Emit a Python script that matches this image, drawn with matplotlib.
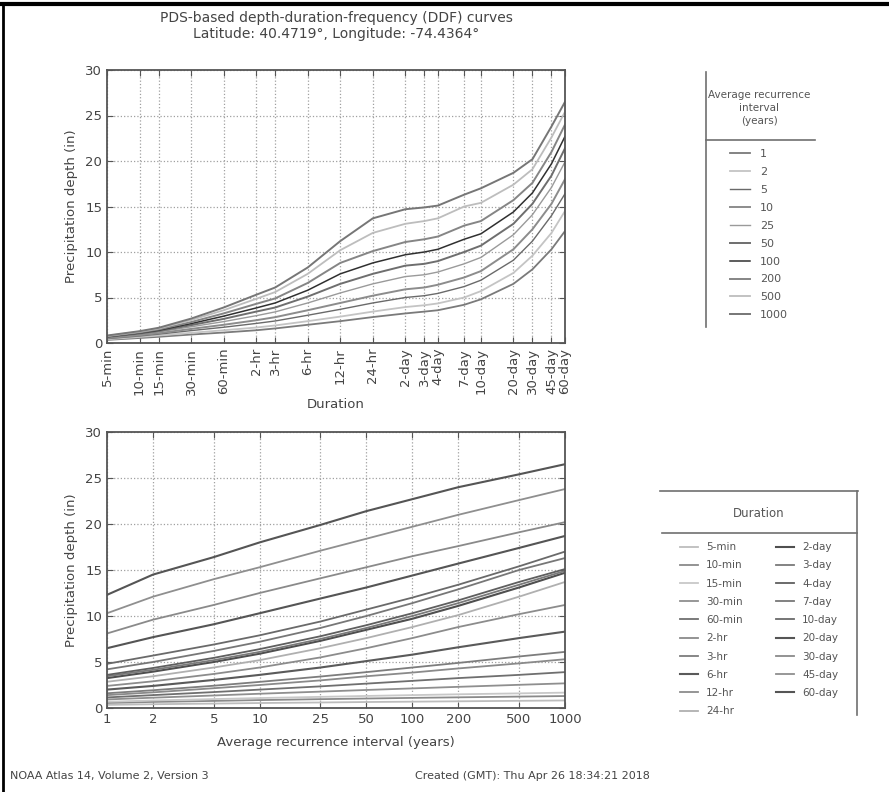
import numpy as np
import matplotlib
matplotlib.use("Agg")
import matplotlib.pyplot as plt
from matplotlib.lines import Line2D

# Average recurrence intervals (years)
ari_years = [1, 2, 5, 10, 25, 50, 100, 200, 500, 1000]
ari_labels = ["1", "2", "5", "10", "25", "50", "100", "200", "500", "1000"]

# Durations (labels and length in minutes)
duration_labels = ["5-min", "10-min", "15-min", "30-min", "60-min", "2-hr", "3-hr",
                   "6-hr", "12-hr", "24-hr", "2-day", "3-day", "4-day", "7-day",
                   "10-day", "20-day", "30-day", "45-day", "60-day"]
duration_minutes = [5, 10, 15, 30, 60, 120, 180, 360, 720, 1440, 2880, 4320, 5760,
                    10080, 14400, 28800, 43200, 64800, 86400]

# PDS precipitation depths (in); one row per duration, one column per ARI
depth_5min   = [0.34, 0.41, 0.48, 0.54, 0.60, 0.65, 0.69, 0.73, 0.78, 0.82]
depth_10min  = [0.55, 0.66, 0.77, 0.86, 0.96, 1.03, 1.10, 1.16, 1.24, 1.30]
depth_15min  = [0.68, 0.82, 0.97, 1.08, 1.21, 1.31, 1.40, 1.49, 1.59, 1.67]
depth_30min  = [0.93, 1.12, 1.36, 1.55, 1.78, 1.96, 2.13, 2.30, 2.52, 2.68]
depth_60min  = [1.15, 1.40, 1.73, 2.00, 2.35, 2.65, 2.95, 3.25, 3.60, 3.90]
depth_2hr    = [1.40, 1.70, 2.15, 2.50, 3.00, 3.45, 3.85, 4.30, 4.85, 5.30]
depth_3hr    = [1.60, 1.93, 2.42, 2.84, 3.42, 3.90, 4.40, 4.90, 5.60, 6.10]
depth_6hr    = [2.00, 2.40, 3.05, 3.60, 4.40, 5.10, 5.80, 6.60, 7.60, 8.30]
depth_12hr   = [2.40, 2.90, 3.70, 4.40, 5.50, 6.50, 7.60, 8.80, 10.2, 11.2]
depth_24hr   = [2.85, 3.45, 4.40, 5.20, 6.50, 7.60, 8.80, 10.1, 12.1, 13.7]
depth_2day   = [3.25, 3.95, 5.00, 5.90, 7.30, 8.50, 9.70, 11.1, 13.1, 14.7]
depth_3day   = [3.45, 4.15, 5.20, 6.10, 7.50, 8.70, 10.0, 11.4, 13.4, 14.9]
depth_4day   = [3.60, 4.35, 5.45, 6.40, 7.80, 9.00, 10.3, 11.7, 13.7, 15.1]
depth_7day   = [4.20, 5.00, 6.20, 7.20, 8.70, 10.0, 11.4, 12.9, 15.0, 16.3]
depth_10day  = [4.80, 5.70, 6.90, 7.90, 9.40, 10.7, 12.0, 13.4, 15.4, 17.0]
depth_20day  = [6.50, 7.70, 9.10, 10.3, 11.9, 13.1, 14.4, 15.7, 17.4, 18.7]
depth_30day  = [8.10, 9.60, 11.2, 12.5, 14.1, 15.3, 16.5, 17.6, 19.1, 20.2]
depth_45day  = [10.3, 12.1, 14.0, 15.3, 17.1, 18.4, 19.7, 21.0, 22.6, 23.8]
depth_60day  = [12.3, 14.5, 16.4, 18.0, 19.9, 21.4, 22.7, 24.0, 25.4, 26.5]

depths = np.array([depth_5min, depth_10min, depth_15min, depth_30min, depth_60min,
                   depth_2hr, depth_3hr, depth_6hr, depth_12hr, depth_24hr,
                   depth_2day, depth_3day, depth_4day, depth_7day, depth_10day,
                   depth_20day, depth_30day, depth_45day, depth_60day])

# Gray tones for the curves
ari_colors = ["#7a7a7a", "#c4c4c4", "#6a6a6a", "#8c8c8c", "#9a9a9a",
              "#6e6e6e", "#303030", "#858585", "#bdbdbd", "#767676"]
ari_widths = [1.3, 1.3, 1.0, 1.4, 1.0, 1.4, 1.1, 1.4, 1.3, 1.4]
dur_colors = ["#bdbdbd", "#8a8a8a", "#c8c8c8", "#8f8f8f", "#6f6f6f", "#8a8a8a",
              "#7d7d7d", "#5a5a5a", "#8c8c8c", "#b0b0b0", "#4f4f4f", "#7a7a7a",
              "#5f5f5f", "#777777", "#6a6a6a", "#555555", "#8a8a8a", "#8f8f8f",
              "#555555"]

plt.rcParams["font.family"] = ["DejaVu Sans"]

fig = plt.figure(figsize=(8.89, 7.92), dpi=100)
W, H = 889.0, 792.0


def style_axes(ax):
    for s in ax.spines.values():
        s.set_color("#555555")
        s.set_linewidth(1.3)
    ax.tick_params(direction="in", top=True, right=True, length=4, width=0.8,
                   colors="#555555", labelcolor="#444444", labelsize=9.5)
    ax.grid(True, linestyle=":", color="#a0a0a0", linewidth=0.9)
    ax.set_axisbelow(True)


# ---- Depth-duration curves ----
ax1 = fig.add_axes([107 / W, 1 - 343 / H, 458 / W, 273 / H])
for j, ari in enumerate(ari_labels):
    ax1.plot(duration_minutes, depths[:, j], color=ari_colors[j], lw=ari_widths[j],
             label=ari)
ax1.set_xscale("log")
ax1.set_xlim(duration_minutes[0], duration_minutes[-1])
ax1.set_ylim(0, 30)
ax1.set_xticks(duration_minutes)
ax1.set_xticklabels(duration_labels, rotation=90)
ax1.minorticks_off()
ax1.set_yticks(range(0, 31, 5))
style_axes(ax1)
ax1.set_xlabel("Duration", fontsize=9.5, color="#444444", labelpad=2)
ax1.set_ylabel("Precipitation depth (in)", fontsize=9.5, color="#444444", labelpad=5)
ax1.set_title("PDS-based depth-duration-frequency (DDF) curves\n"
              "Latitude: 40.4719\u00b0, Longitude: -74.4364\u00b0",
              fontsize=10, color="#444444", pad=23)

# ---- Depth-frequency curves ----
ax2 = fig.add_axes([107 / W, 1 - 708 / H, 458 / W, 276 / H])
for i, lab in enumerate(duration_labels):
    lw = 1.5 if i in (7, 10, 15, 18) else 1.3
    ax2.plot(ari_years, depths[i], color=dur_colors[i], lw=lw, label=lab)
ax2.set_xscale("log")
ax2.set_xlim(1, 1000)
ax2.set_ylim(0, 30)
ax2.set_xticks(ari_years)
ax2.set_xticklabels(ari_labels)
ax2.minorticks_off()
ax2.set_yticks(range(0, 31, 5))
style_axes(ax2)
ax2.set_xlabel("Average recurrence interval (years)", fontsize=9.5, color="#444444",
               labelpad=7)
ax2.set_ylabel("Precipitation depth (in)", fontsize=9.5, color="#444444", labelpad=5)

# ---- Legends ----
h1, l1 = ax1.get_legend_handles_labels()
leg1 = fig.legend(h1, l1, loc="upper left", bbox_to_anchor=(708 / W, 1 - 90 / H),
                  bbox_transform=fig.transFigure, frameon=False, fontsize=8,
                  title="Average recurrence\ninterval\n(years)", title_fontsize=7.5,
                  handlelength=1.8, handletextpad=0.9, labelspacing=0.71,
                  borderpad=0, borderaxespad=0, alignment="center")
for t in leg1.get_texts():
    t.set_color("#555555")
leg1.get_title().set_color("#555555")
leg1.get_title().set_multialignment("center")
leg1.get_title().set_linespacing(1.35)
leg1._legend_box.sep = 17

h2, l2 = ax2.get_legend_handles_labels()
leg2 = fig.legend(h2, l2, loc="upper left", bbox_to_anchor=(680 / W, 1 - 507 / H),
                  bbox_transform=fig.transFigure, frameon=False, fontsize=7.5, ncol=2,
                  title="Duration", title_fontsize=8.5, handlelength=1.7,
                  handletextpad=0.8, labelspacing=0.79, columnspacing=3.2,
                  borderpad=0, borderaxespad=0)
for t in leg2.get_texts():
    t.set_color("#555555")
leg2.get_title().set_color("#555555")
leg2._legend_box.sep = 16


def fig_line(x0, y0, x1, y1, color="#6f6f6f", lw=1.2):
    fig.add_artist(Line2D([x0 / W, x1 / W], [1 - y0 / H, 1 - y1 / H],
                          transform=fig.transFigure, color=color, lw=lw))


# partial legend frames
fig_line(706, 72, 706, 327)
fig_line(706, 140, 815, 140)
fig_line(660, 491, 858, 491)
fig_line(857, 491, 857, 715)
fig_line(662, 533, 857, 533)

# outer border
fig_line(0, 4, 889, 4, color="black", lw=3)
fig_line(3, 4, 3, 792, color="black", lw=2)

# footer
fig.text(10 / W, 1 - 776 / H, "NOAA Atlas 14, Volume 2, Version 3", fontsize=8,
         color="#444444", va="center")
fig.text(415 / W, 1 - 776 / H, "Created (GMT): Thu Apr 26 18:34:21 2018", fontsize=8,
         color="#444444", va="center")

fig.savefig("out.png", dpi=100)
